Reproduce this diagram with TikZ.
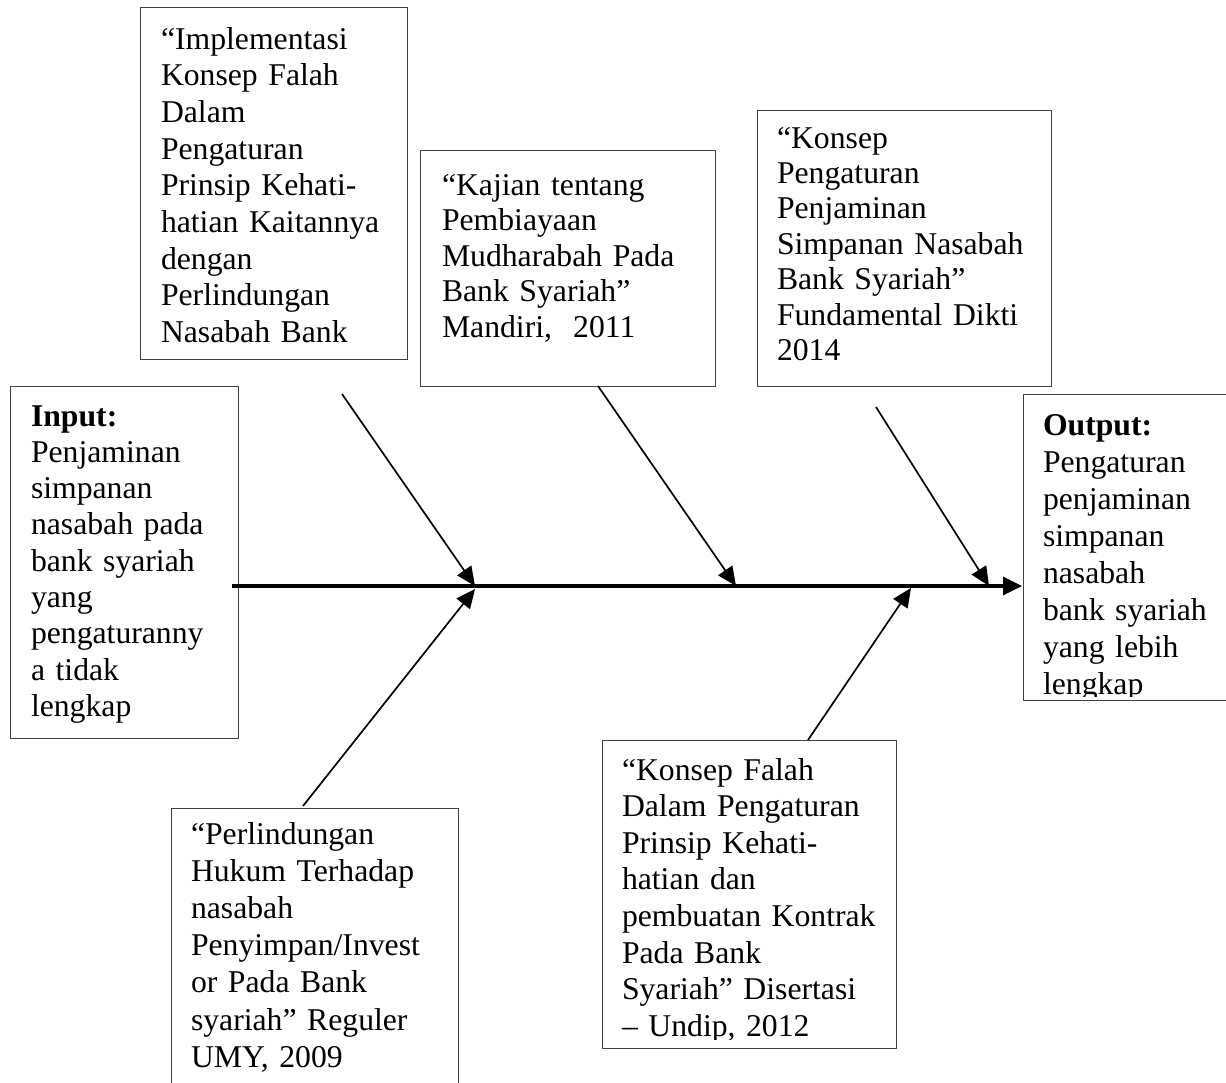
\documentclass[tikz,border=0pt]{standalone}
\usepackage{fontspec}
\setmainfont{Liberation Serif}
\usetikzlibrary{arrows.meta}
\tikzset{
  box/.style={draw=black!75, line width=1pt, anchor=north west, inner sep=0pt, outer sep=0pt},
  txt/.style={anchor=base west, inner sep=0pt, outer sep=0pt, text width=300pt, align=left},
  branch/.style={line width=1.7pt, -{Triangle[length=19pt,width=17pt]}},
  spine/.style={line width=3.2pt, -{Triangle[length=19pt,width=18pt]}}
}
\newcommand{\fsz}[1]{\fontsize{31.7}{#1}\selectfont}
\begin{document}
\begin{tikzpicture}[x=1pt,y=-1pt]
\useasboundingbox (0,0) rectangle (1226,1082);
\clip (0,0) rectangle (1226,1082);
\fill[white] (0,0) rectangle (1226,1082);

% boxes
\node[box, minimum width=267pt, minimum height=352pt] (b1) at (140,7) {};
\node[box, minimum width=295pt, minimum height=236pt] (b2) at (420,150) {};
\node[box, minimum width=294pt, minimum height=276pt] (b3) at (757,110) {};
\node[box, minimum width=228pt, minimum height=352pt] (bin) at (10,386) {};
\node[box, minimum width=230pt, minimum height=306pt] (bout) at (1023,394) {};
\node[box, minimum width=287pt, minimum height=300pt] (b4) at (171,808) {};
\node[box, minimum width=294pt, minimum height=308pt] (b5) at (602,740) {};

% texts
\node[txt, font=\fsz{36.7}] (t1) at (161,49) {“Implementasi\\Konsep Falah\\Dalam\\Pengaturan\\Prinsip Kehati-\\hatian Kaitannya\\dengan\\Perlindungan\\Nasabah Bank};
\node[txt, font=\fsz{35.6}] (t2) at (442,195) {“Kajian tentang\\Pembiayaan\\Mudharabah Pada\\Bank Syariah”\\Mandiri,\ \ 2011};
\node[txt, font=\fsz{35.4}] (t3) at (777,148) {“Konsep\\Pengaturan\\Penjaminan\\Simpanan Nasabah\\Bank Syariah”\\Fundamental Dikti\\2014};
\node[txt, font=\fsz{36.3}] (tin) at (31,426) {\textbf{Input:}\\Penjaminan\\simpanan\\nasabah pada\\bank syariah\\yang\\pengaturanny\\a tidak\\lengkap};
\begin{scope}
\clip (1023,394) rectangle (1240,696);
\node[txt, font=\fsz{37.0}] (tout) at (1043,435) {\textbf{Output:}\\Pengaturan\\penjaminan\\simpanan\\nasabah\\bank syariah\\yang lebih\\lengkap};
\end{scope}
\node[txt, font=\fsz{37.2}] (t4) at (191,844) {“Perlindungan\\Hukum Terhadap\\nasabah\\Penyimpan/Invest\\or Pada Bank\\syariah” Reguler\\UMY, 2009};
\begin{scope}
\clip (602,740) rectangle (896,1039);
\node[txt, font=\fsz{36.6}] (t5) at (622,780) {“Konsep Falah\\Dalam Pengaturan\\Prinsip Kehati-\\hatian dan\\pembuatan Kontrak\\Pada Bank\\Syariah” Disertasi\\– Undip, 2012};
\end{scope}

% spine and branches
\coordinate (s0) at (232,586);
\coordinate (s1) at (1022,586);
\coordinate (c1) at (342,394);
\coordinate (p1) at (475,586);
\coordinate (c2) at (598,386);
\coordinate (p2) at (736,586);
\coordinate (c3) at (876,407);
\coordinate (p3) at (989,586);
\coordinate (c4) at (303,806);
\coordinate (p4) at (475,589);
\coordinate (c5) at (808,740);
\coordinate (p5) at (911,588);

\draw[spine] (s0) -- (s1);
\draw[branch] (c1) -- (p1);
\draw[branch] (c2) -- (p2);
\draw[branch] (c3) -- (p3);
\draw[branch] (c4) -- (p4);
\draw[branch] (c5) -- (p5);
\end{tikzpicture}
\end{document}
